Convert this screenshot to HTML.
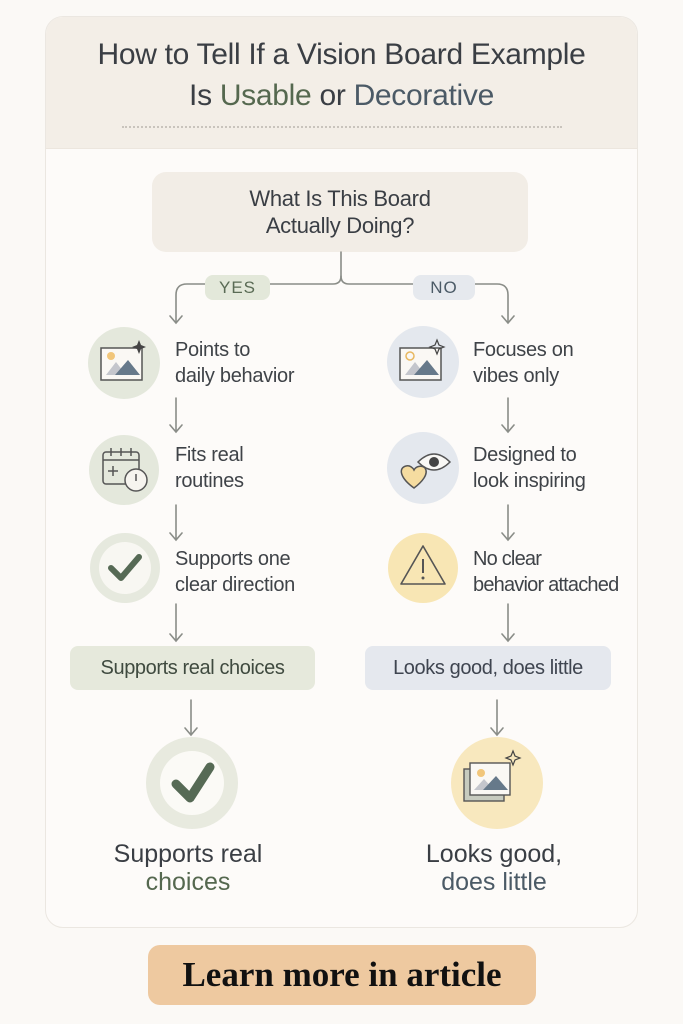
<!DOCTYPE html>
<html><head><meta charset="utf-8"><style>
body{margin:0;width:683px;height:1024px;background:#fbf9f6;position:relative;overflow:hidden;font-family:"Liberation Sans",sans-serif;color:#3a3e44}
.a{position:absolute}
.card{left:45px;top:16px;width:591px;height:910px;border:1px solid #ebe7e1;border-radius:18px;background:#fdfbf9;overflow:hidden}
.hdr{left:0;top:0;width:591px;height:131px;background:#f3eee7;border-bottom:1px solid #ece6de}
.t{text-align:center;white-space:nowrap}
.lbl{font-size:20px;line-height:26px;color:#3f4348;letter-spacing:-0.3px}
</style></head><body>
<div class="a card"><div class="a hdr"></div></div>
<div class="a t" style="left:0;width:683px;top:34px;font-size:30px;line-height:41px;color:#3a3e44;letter-spacing:-0.3px">How to Tell If a Vision Board Example<br>Is <span style="color:#55684f">Usable</span> or <span style="color:#4b5a66">Decorative</span></div>
<div class="a" style="left:122px;top:126px;width:440px;border-top:2px dotted #c9c4bd"></div>
<div class="a t" style="left:152px;top:172px;width:376px;height:80px;background:#f2ede6;border-radius:14px;font-size:22px;line-height:27px;padding-top:13px;box-sizing:border-box;color:#3a3e44;letter-spacing:-0.3px">What Is This Board<br>Actually Doing?</div>
<svg class="a" style="left:0;top:0" width="683" height="1024">
<g fill="none" stroke="#8a8d88" stroke-width="1.6" stroke-linecap="round">
<path d="M341 252 V276 Q341 284 333 284 H187 Q176 284 176 295 V322"/>
<path d="M341 276 Q341 284 349 284 H497 Q508 284 508 295 V322"/>
<path d="M170 316 L176 323 L182 316"/><path d="M502 316 L508 323 L514 316"/>
<path d="M176 398 V431 M170 425 L176 432 L182 425"/>
<path d="M176 505 V539 M170 533 L176 540 L182 533"/>
<path d="M176 604 V640 M170 634 L176 641 L182 634"/>
<path d="M508 398 V431 M502 425 L508 432 L514 425"/>
<path d="M508 505 V539 M502 533 L508 540 L514 533"/>
<path d="M508 604 V640 M502 634 L508 641 L514 634"/>
<path d="M191 700 V734 M185 728 L191 735 L197 728"/>
<path d="M497 700 V734 M491 728 L497 735 L503 728"/>
</g>
<circle cx="124" cy="363" r="36" fill="#e4e8dc"/>
<circle cx="124" cy="470" r="35" fill="#e4e8dc"/>
<circle cx="125" cy="568" r="35" fill="#e6e9de"/>
<circle cx="125" cy="568" r="26" fill="#f8f7f2"/>
<circle cx="423" cy="362" r="36" fill="#e4e8ee"/>
<circle cx="423" cy="468" r="36" fill="#e4e8ee"/>
<circle cx="423" cy="568" r="35" fill="#f8e6b4"/>
<circle cx="192" cy="783" r="46" fill="#e8eadf"/>
<circle cx="192" cy="783" r="32" fill="#fbfaf6"/>
<circle cx="497" cy="783" r="46" fill="#f8e8be"/>
<g>
<rect x="101" y="348" width="41" height="32" fill="#faf8f4" stroke="#555" stroke-width="1.5"/>
<circle cx="111" cy="356" r="4" fill="#f1c67a"/>
<path d="M106 375 L116 362 L126 375Z" fill="#c4c6cc"/><path d="M115 375 L128 360 L140 375Z" fill="#66798a"/>
<path d="M139 340 l2 5 5 2 -5 2 -2 5 -2 -5 -5 -2 5 -2z" fill="#444"/>
<rect x="400" y="348" width="41" height="32" fill="#faf8f4" stroke="#555" stroke-width="1.5"/>
<circle cx="410" cy="356" r="4" fill="none" stroke="#e8b860" stroke-width="1.5"/>
<path d="M405 375 L415 362 L425 375Z" fill="#c4c6cc"/><path d="M414 375 L427 360 L439 375Z" fill="#66798a"/>
<path d="M437 340 l2 5 5 2 -5 2 -2 5 -2 -5 -5 -2 5 -2z" fill="none" stroke="#444" stroke-width="1.2"/>
<rect x="464" y="769" width="40" height="32" fill="#c7cbbf" stroke="#555" stroke-width="1.4"/>
<rect x="470" y="763" width="40" height="32" fill="#faf8f4" stroke="#555" stroke-width="1.4"/>
<circle cx="481" cy="773" r="4" fill="#f1c67a"/>
<path d="M474 790 L484 779 L494 790Z" fill="#c4c6cc"/><path d="M483 790 L496 776 L508 790Z" fill="#66798a"/>
<path d="M513 751 l2 5 5 2 -5 2 -2 5 -2 -5 -5 -2 5 -2z" fill="none" stroke="#444" stroke-width="1.2"/>
</g>
<g fill="none" stroke="#555" stroke-width="1.5">
<rect x="103" y="452" width="36" height="32" rx="3"/><path d="M103 460 H139 M111 448 V456 M121 448 V456 M131 448 V456 M108 471 H118 M113 466 V476"/>
<circle cx="136" cy="480" r="11" fill="#f6f4ef"/><path d="M136 474 V481"/>
</g>
<path d="M111 568 L121 578 L139 557" fill="none" stroke="#566a55" stroke-width="6" stroke-linecap="round" stroke-linejoin="round"/>
<path d="M176 784 L190 798 L210 767" fill="none" stroke="#566a55" stroke-width="9" stroke-linecap="round" stroke-linejoin="round"/>
<path d="M418 462 Q434 446 450 462 Q434 478 418 462Z" fill="#f9f8f5" stroke="#555" stroke-width="1.5"/>
<circle cx="434" cy="462" r="5" fill="#444"/>
<path d="M414 488 C400 478 398 468 406 466 C410 465 413 468 414 470 C416 466 422 465 425 468 C429 474 422 482 414 488Z" fill="#f5dca0" stroke="#555" stroke-width="1.5"/>
<path d="M423 546 L445 584 H401Z" fill="none" stroke="#555" stroke-width="1.6" stroke-linejoin="round"/>
<path d="M423 559 V573" stroke="#555" stroke-width="2"/><circle cx="423" cy="578" r="1.5" fill="#555"/>
</svg>
<div class="a t" style="left:205px;top:275px;width:65px;height:25px;line-height:25px;background:#e3e8da;border-radius:8px;font-size:17px;color:#5a6b55;letter-spacing:1px">YES</div>
<div class="a t" style="left:413px;top:275px;width:62px;height:25px;line-height:25px;background:#e6e9ee;border-radius:8px;font-size:17px;color:#4b5a66;letter-spacing:1px">NO</div>
<div class="a lbl" style="left:175px;top:337px">Points to<br>daily behavior</div>
<div class="a lbl" style="left:175px;top:442px">Fits real<br>routines</div>
<div class="a lbl" style="left:175px;top:546px">Supports one<br>clear direction</div>
<div class="a lbl" style="left:473px;top:337px">Focuses on<br>vibes only</div>
<div class="a lbl" style="left:473px;top:442px">Designed to<br>look inspiring</div>
<div class="a lbl" style="left:473px;top:546px;letter-spacing:-0.8px">No clear<br>behavior attached</div>
<div class="a t" style="left:70px;top:646px;width:245px;height:44px;line-height:44px;background:#e6e9dc;border-radius:8px;font-size:20px;color:#3f4a3f;letter-spacing:-0.4px">Supports real choices</div>
<div class="a t" style="left:365px;top:646px;width:246px;height:44px;line-height:44px;background:#e5e8ee;border-radius:8px;font-size:20px;color:#3f4550;letter-spacing:-0.4px">Looks good, does little</div>
<div class="a t" style="left:88px;width:200px;top:840px;font-size:25px;line-height:28px;color:#3a3e44">Supports real<br><span style="color:#55684f">choices</span></div>
<div class="a t" style="left:394px;width:200px;top:840px;font-size:25px;line-height:28px;color:#3a3e44">Looks good,<br><span style="color:#4b5a66">does little</span></div>
<div class="a t" style="left:148px;top:945px;width:388px;height:60px;line-height:60px;background:#eec9a0;border-radius:12px;font-family:'Liberation Serif',serif;font-weight:bold;font-size:35px;color:#111">Learn more in article</div>
</body></html>
